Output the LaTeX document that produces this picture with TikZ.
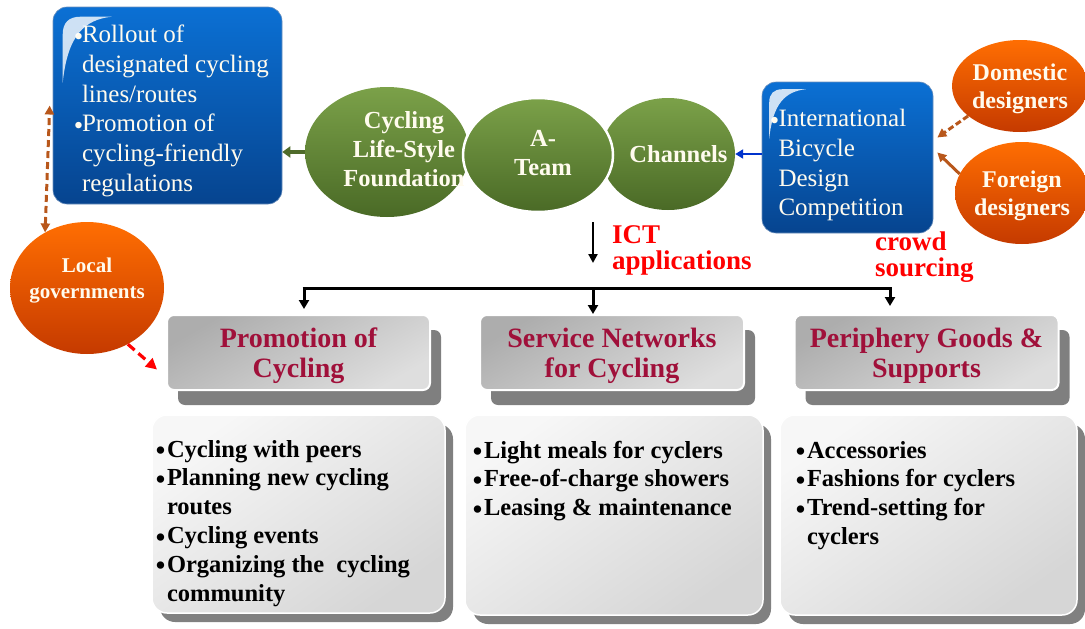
\documentclass[tikz,border=0pt]{standalone}
\usepackage{fontspec}
\setmainfont{Liberation Serif}
\usetikzlibrary{shapes.geometric,arrows.meta,shadows,calc}
\definecolor{bluetop}{HTML}{0B70D4}
\definecolor{bluebot}{HTML}{06448F}
\definecolor{greentop}{HTML}{7BA149}
\definecolor{greenbot}{HTML}{4A6A26}
\definecolor{orangetop}{HTML}{FF6E02}
\definecolor{orangebot}{HTML}{C53A00}
\definecolor{hdrred}{HTML}{A0103A}
\definecolor{hdrA}{HTML}{ADADAD}
\definecolor{hdrB}{HTML}{DEDEDE}
\definecolor{cntA}{HTML}{F7F7F7}
\definecolor{cntB}{HTML}{D6D6D6}
\definecolor{brownarr}{HTML}{B8571B}
\definecolor{darkgreenarr}{HTML}{4F6B2A}
\definecolor{bluearr}{HTML}{0033CC}
\definecolor{shadowgray}{HTML}{7F7F7F}
\definecolor{creamwhite}{HTML}{FFFBEE}
\newcommand\bul{\makebox[5pt][c]{\raisebox{-2.5pt}{\fontsize{27}{27}\selectfont\textbullet}}}
\newcommand\inbox[4]{\parbox[c][#1][t]{#2}{\vspace*{#3}#4}}
\tikzset{
  bluebox/.style={rectangle, rounded corners=14pt, top color=bluetop, bottom color=bluebot,
    draw=bluebot!60!white, line width=0.6pt, text=creamwhite, inner sep=0pt,
    font=\fontsize{25}{29.7}\selectfont},
  greenell/.style={ellipse, top color=greentop, bottom color=greenbot, inner sep=0pt,
    text=creamwhite, font=\bfseries\fontsize{24.5}{29}\selectfont},
  orangeell/.style={ellipse, top color=orangetop, bottom color=orangebot, inner sep=0pt,
    text=creamwhite, font=\bfseries\fontsize{24}{28}\selectfont},
  hdrbox/.style={rectangle, rounded corners=7pt, top color=hdrA, bottom color=hdrB, shading angle=30,
    draw=white, line width=2pt, text=hdrred, inner sep=0pt,
    font=\bfseries\fontsize{28}{30}\selectfont,
    drop shadow={shadow xshift=11pt, shadow yshift=-15pt, fill=shadowgray, opacity=1}},
  contentbox/.style={rectangle, rounded corners=15pt, top color=cntA, bottom color=cntB, shading angle=35,
    draw=white, line width=1.5pt, inner sep=0pt, text=black,
    font=\bfseries\fontsize{24.5}{28.8}\selectfont,
    drop shadow={shadow xshift=8pt, shadow yshift=-9pt, fill=black!50, opacity=1}},
  redlabel/.style={text=red, inner sep=0pt, font=\bfseries\fontsize{27}{24.5}\selectfont},
  treeline/.style={line width=3pt, black},
  treearrow/.style={line width=3pt, black, -{Triangle[length=9pt,width=10pt]}},
  ictarrow/.style={line width=2.5pt, black, -{Triangle[length=9pt,width=9pt]}},
  greenarrow/.style={line width=3.5pt, darkgreenarr, -{Triangle[length=8pt,width=11pt]}},
  bluearrow/.style={line width=2.6pt, bluearr, -{Triangle[length=8pt,width=9pt]}},
  browndash/.style={line width=3pt, brownarr, dash pattern=on 7pt off 4pt, {Triangle[length=9pt,width=9pt]}-{Triangle[length=9pt,width=9pt]}},
  brownsolid/.style={line width=3pt, brownarr, -{Triangle[length=9pt,width=9pt]}},
  browndashone/.style={line width=3pt, brownarr, dash pattern=on 6pt off 3pt, -{Triangle[length=9pt,width=9pt]}},
  reddash/.style={line width=3.2pt, red, dash pattern=on 9pt off 5pt, -{Triangle[length=11pt,width=11pt]}},
  gloss/.style={fill=white, opacity=0.8}
}
\begin{document}
\begin{tikzpicture}[x=1pt,y=-1pt]
\useasboundingbox (0,0) rectangle (1085,629);

% ---- top-left blue box
\node[bluebox, minimum width=229pt, minimum height=197pt] (box1) at (167.5,105.5)
  {\inbox{197pt}{229pt}{15pt}{\hspace*{23pt}\begin{tabular}[t]{@{}l@{\hspace{1pt}}l@{}}\bul&Rollout of\\&designated cycling\\&lines/routes\\\bul&Promotion of\\&cycling-friendly\\&regulations\end{tabular}}};
\fill[gloss, shift={(box1.north west)}] (10,76) -- (10,28) .. controls (10,16) and (16,10) .. (28,10) -- (59,10) .. controls (32,13) and (15,28) .. (10,76) -- cycle;

% ---- right blue box
\node[bluebox, minimum width=171pt, minimum height=151pt] (box2) at (847.5,157.5)
  {\inbox{151pt}{171pt}{24pt}{\hspace*{10pt}\begin{tabular}[t]{@{}l@{\hspace{1.5pt}}l@{}}\bul&International\\&Bicycle\\&Design\\&Competition\end{tabular}}};
\fill[gloss, shift={(box2.north west)}, scale=0.75] (10,76) -- (10,28) .. controls (10,16) and (16,10) .. (28,10) -- (59,10) .. controls (32,13) and (15,28) .. (10,76) -- cycle;

% ---- green ellipses
\node[greenell, minimum width=164pt, minimum height=130pt] (cyc) at (387,152)
  {\makebox[0pt]{\hspace*{34pt}\begin{tabular}{@{}c@{}}Cycling\\Life-Style\\Foundation\end{tabular}}};
\node[greenell, minimum width=134pt, minimum height=112pt] (chan) at (668,154)
  {\makebox[0pt]{\hspace*{21pt}Channels}};
\node[greenell, draw=white, line width=2.5pt, minimum width=150pt, minimum height=114pt] (ateam) at (538,155)
  {\makebox[0pt]{\hspace*{10pt}\begin{tabular}{@{}c@{}}A-\\Team\end{tabular}}};

% ---- orange ellipses
\node[orangeell, minimum width=136pt, minimum height=92pt] (dom) at (1020,86)
  {\makebox[0pt]{\raisebox{6pt}[0pt][0pt]{\begin{tabular}[t]{@{}c@{}}Domestic\\designers\end{tabular}}}};
\node[orangeell, minimum width=134pt, minimum height=102pt] (forn) at (1022,193)
  {\makebox[0pt]{\raisebox{6pt}[0pt][0pt]{\begin{tabular}[t]{@{}c@{}}Foreign\\designers\end{tabular}}}};
\node[orangeell, font=\bfseries\fontsize{21}{26}\selectfont, minimum width=154pt, minimum height=132pt] (lg) at (87,288)
  {\makebox[0pt]{\raisebox{16pt}[0pt][0pt]{\begin{tabular}[t]{@{}c@{}}Local\\governments\end{tabular}}}};

% ---- red labels
\node[redlabel, anchor=base west] (ict) at (612,243)
  {\begin{tabular}[t]{@{}l@{}}ICT\\applications\end{tabular}};
\node[redlabel, anchor=base west, font=\bfseries\fontsize{27}{25}\selectfont] (crowd) at (875,250)
  {\begin{tabular}[t]{@{}l@{}}crowd\\sourcing\end{tabular}};

% ---- header boxes
\node[hdrbox, minimum width=263pt, minimum height=75pt] (promH) at (298.5,352.5)
  {\inbox{75pt}{263pt}{11pt}{\centering\begin{tabular}[t]{@{}c@{}}Promotion of\\Cycling\end{tabular}}};
\node[hdrbox, minimum width=264pt, minimum height=75pt] (servH) at (612,352.5)
  {\inbox{75pt}{264pt}{11pt}{\centering\begin{tabular}[t]{@{}c@{}}Service Networks\\for Cycling\end{tabular}}};
\node[hdrbox, minimum width=264pt, minimum height=75pt] (periH) at (926.5,352.5)
  {\inbox{75pt}{264pt}{11pt}{\centering\begin{tabular}[t]{@{}c@{}}Periphery Goods \&\\Supports\end{tabular}}};

% ---- content boxes
\node[contentbox, minimum width=293pt, minimum height=198pt] (c1) at (298.5,514)
  {\inbox{198pt}{293pt}{22pt}{\hspace*{6pt}\begin{tabular}[t]{@{}l@{\hspace{4pt}}l@{}}\bul&Cycling with peers\\\bul&Planning new cycling\\&routes\\\bul&Cycling events\\\bul&Organizing the\ \ cycling\\&community\end{tabular}}};
\node[contentbox, minimum width=298pt, minimum height=200pt] (c2) at (614,515)
  {\inbox{200pt}{298pt}{23pt}{\hspace*{10pt}\begin{tabular}[t]{@{}l@{\hspace{4pt}}l@{}}\bul&Light meals for cyclers\\\bul&Free-of-charge showers\\\bul&Leasing \& maintenance\end{tabular}}};
\node[contentbox, minimum width=297pt, minimum height=200pt] (c3) at (928.5,515)
  {\inbox{200pt}{297pt}{23pt}{\hspace*{18pt}\begin{tabular}[t]{@{}l@{\hspace{4pt}}l@{}}\bul&Accessories\\\bul&Fashions for cyclers\\\bul&Trend-setting for\\&cyclers\end{tabular}}};

% ---- connectors
\draw[greenarrow] (cyc.west) -- (cyc.west -| box1.east);
\draw[bluearrow] (chan.east -| box2.west) -- (chan.east);
\draw[browndashone] (dom.210) -- ($(box2.east)+(4,-20)$);
\draw[brownsolid] (forn.163) -- ($(box2.east)+(4,-5)$);
\draw[browndash] (lg.127) -- ([xshift=-3pt]box1.west);
\draw[reddash] (lg.-54) -- ($(promH.west)+(-9,17)$);

% ---- tree
\coordinate (tl) at (304,288);
\coordinate (tm) at (593,288);
\coordinate (tr) at (890,288);
\coordinate (ictEnd) at (593,263);
\draw[ictarrow, shorten <=9pt] (ateam.south -| tm) -- (ictEnd);
\draw[treeline] ([xshift=-1.5pt]tl) -- ([xshift=1.5pt]tr);
\draw[treearrow, shorten >=5pt] (tl) -- (tl |- promH.north);
\draw[treearrow] (tm) -- (tm |- servH.north);
\draw[treearrow, shorten >=8pt] (tr) -- (tr |- periH.north);
\end{tikzpicture}
\end{document}
